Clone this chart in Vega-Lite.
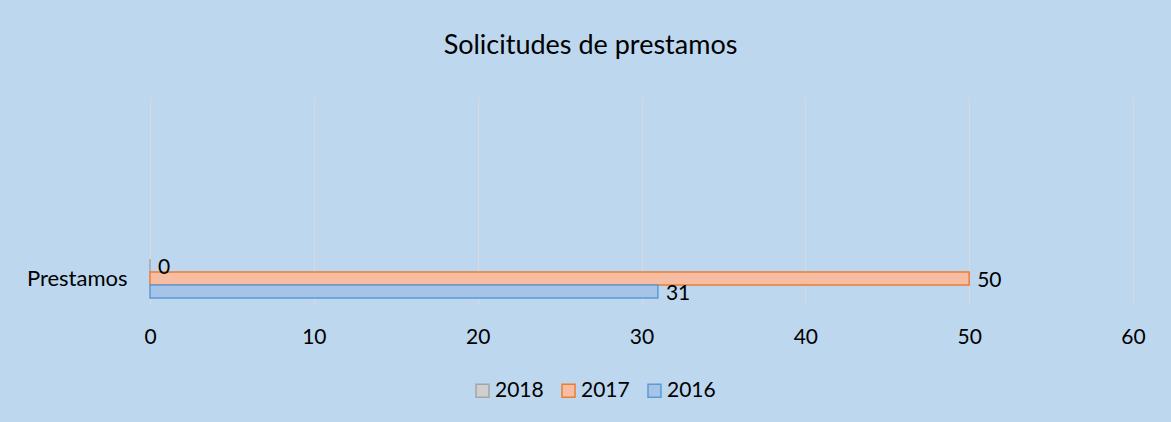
{
  "$schema": "https://vega.github.io/schema/vega-lite/v6.json",
  "width": 983,
  "height": 208,
  "autosize": {"type": "none"},
  "padding": {"left": 150, "top": 97, "right": 38, "bottom": 117},
  "background": "#BDD7EE",
  "title": {
    "text": "Solicitudes de prestamos",
    "font": "Lato",
    "fontSize": 27,
    "fontWeight": "normal",
    "color": "#000000",
    "anchor": "middle",
    "frame": "group",
    "dx": -51,
    "baseline": "alphabetic",
    "offset": 16
  },
  "data": {
    "values": [
      {"categoria": "Prestamos", "anio": "2018", "valor": 0},
      {"categoria": "Prestamos", "anio": "2017", "valor": 50},
      {"categoria": "Prestamos", "anio": "2016", "valor": 31}
    ]
  },
  "encoding": {
    "y": {
      "field": "categoria",
      "type": "nominal",
      "title": null,
      "scale": {"paddingInner": 0.5385, "paddingOuter": 1, "align": 0.9586, "round": false},
      "axis": {
        "domain": false,
        "ticks": false,
        "grid": false,
        "labelPadding": 23,
        "labelFont": "Lato",
        "labelFontSize": 22,
        "labelColor": "#000000"
      }
    },
    "yOffset": {
      "field": "anio",
      "type": "nominal",
      "scale": {"domain": ["2018", "2017", "2016"], "paddingInner": 0, "paddingOuter": 0}
    },
    "x": {
      "field": "valor",
      "type": "quantitative",
      "scale": {"domain": [0, 60], "nice": false},
      "axis": {
        "values": [0, 10, 20, 30, 40, 50, 60],
        "title": null,
        "grid": true,
        "gridColor": "#D9D9D9",
        "gridWidth": 1,
        "domain": false,
        "ticks": false,
        "labelFont": "Lato",
        "labelFontSize": 21,
        "labelColor": "#000000",
        "labelBaseline": "alphabetic",
        "labelPadding": 38,
        "labelFlush": false
      }
    }
  },
  "layer": [
    {
      "mark": {"type": "bar", "strokeWidth": 1.5},
      "encoding": {
        "color": {
          "field": "anio",
          "type": "nominal",
          "scale": {"domain": ["2018", "2017", "2016"], "range": ["#CFCFCF", "#F7BDA2", "#A6C4E8"]},
          "legend": {
            "orient": "none",
            "legendX": 322,
            "legendY": 283,
            "direction": "horizontal",
            "title": null,
            "symbolType": "square",
            "symbolSize": 169,
            "symbolStrokeWidth": 1.5,
            "labelFont": "Lato",
            "labelFontSize": 21,
            "labelColor": "#000000",
            "labelOffset": 2,
            "columnPadding": 14
          }
        },
        "stroke": {
          "field": "anio",
          "type": "nominal",
          "scale": {"domain": ["2018", "2017", "2016"], "range": ["#A5A5A5", "#ED7D31", "#5B9BD5"]},
          "legend": {
            "orient": "none",
            "legendX": 322,
            "legendY": 283,
            "direction": "horizontal",
            "title": null,
            "symbolType": "square",
            "symbolSize": 169,
            "symbolStrokeWidth": 1.5,
            "labelFont": "Lato",
            "labelFontSize": 21,
            "labelColor": "#000000",
            "labelOffset": 2,
            "columnPadding": 14
          }
        }
      }
    },
    {
      "mark": {"type": "text", "align": "left", "baseline": "middle", "dx": 8, "dy": 2, "font": "Lato", "fontSize": 21, "color": "#000000"},
      "encoding": {
        "text": {"field": "valor", "type": "quantitative"}
      }
    }
  ],
  "config": {"view": {"stroke": null}}
}
